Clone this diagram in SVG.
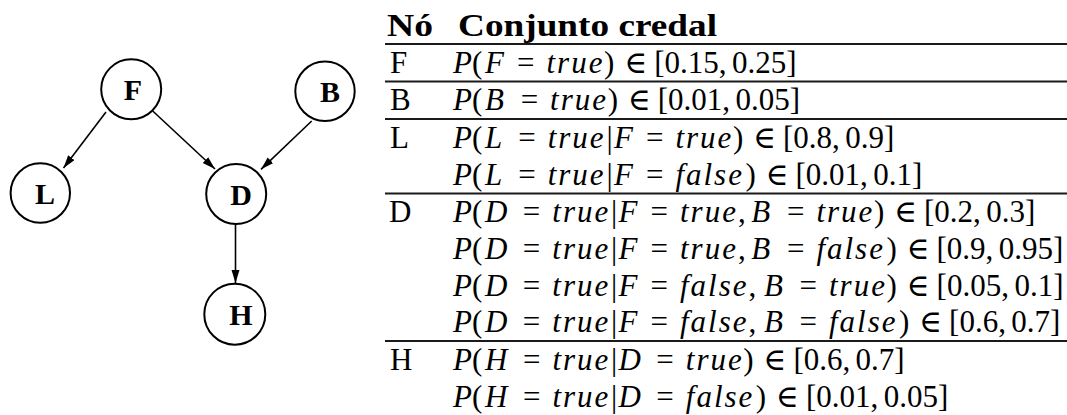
<svg xmlns="http://www.w3.org/2000/svg" width="1067" height="415" viewBox="0 0 1067 415">
<style>
.t{font-family:"Liberation Serif","DejaVu Serif",serif;font-size:31px;fill:#000}
.i{font-style:italic}
.w{letter-spacing:2px}
.hd{font-weight:bold}
.rule{stroke:#1a1a1a;stroke-width:2}
.node circle{fill:#fff;stroke:#000;stroke-width:2}
.node text{font-family:"Liberation Serif","DejaVu Serif",serif;font-weight:bold;font-size:30px;fill:#000;text-anchor:middle}
.edge{stroke:#000;stroke-width:1.6;fill:none;marker-end:url(#arr)}
</style>
<defs>
<marker id="arr" markerUnits="userSpaceOnUse" markerWidth="14" markerHeight="10" refX="13" refY="4" orient="auto">
<path d="M0,0 L13,4 L0,8 z" fill="#000"/>
</marker>
</defs>
<rect width="1067" height="415" fill="#fff"/>
<g id="connectors">
<line class="edge" x1="106" y1="112" x2="63.5" y2="168"/>
<line class="edge" x1="152.7" y1="111" x2="215" y2="169"/>
<line class="edge" x1="311.7" y1="121" x2="261" y2="169.3"/>
<line class="edge" x1="235.5" y1="224" x2="235.5" y2="283"/>
</g>
<g id="node-F" class="node"><circle cx="131.2" cy="89.3" r="30"/><text x="133" y="100">F</text></g>
<g id="node-B" class="node"><circle cx="325" cy="91.3" r="29.7"/><text x="330" y="101.7">B</text></g>
<g id="node-L" class="node"><circle cx="40.3" cy="193" r="29.7"/><text x="45" y="204">L</text></g>
<g id="node-D" class="node"><circle cx="236.2" cy="194" r="30"/><text x="241" y="205">D</text></g>
<g id="node-H" class="node"><circle cx="234.8" cy="314.2" r="30.5"/><text x="241" y="325">H</text></g>
<g id="table">
<text class="t hd" x="387" y="36" textLength="46" lengthAdjust="spacingAndGlyphs">Nó</text>
<text class="t hd" x="458" y="36" textLength="259" lengthAdjust="spacingAndGlyphs">Conjunto credal</text>
<line class="rule" x1="385" y1="44" x2="1067" y2="44"/>
<line class="rule" x1="385" y1="81.5" x2="1067" y2="81.5"/>
<line class="rule" x1="385" y1="119" x2="1067" y2="119"/>
<line class="rule" x1="385" y1="193.5" x2="1067" y2="193.5"/>
<line class="rule" x1="385" y1="341" x2="1067" y2="341"/>
<text class="t" x="390" y="72.5">F</text>
<text class="t" x="390" y="110">B</text>
<text class="t" x="390" y="147.5">L</text>
<text class="t" x="389" y="222">D</text>
<text class="t" x="390" y="370">H</text>
<text class="t" y="72.5"><tspan x="453" class="i">P</tspan>(<tspan x="485.1" class="i">F</tspan> <tspan x="517.1">=</tspan> <tspan x="546.5" class="i w">true</tspan><tspan x="604.1">)</tspan> <tspan x="624.4">∈</tspan> <tspan x="654.2">[0.15,</tspan> <tspan x="732">0.25]</tspan></text>
<text class="t" y="110"><tspan x="453" class="i">P</tspan>(<tspan x="485.1" class="i">B</tspan> <tspan x="520.7">=</tspan> <tspan x="550.1" class="i w">true</tspan><tspan x="607.7">)</tspan> <tspan x="628">∈</tspan> <tspan x="657.8">[0.01,</tspan> <tspan x="735.6">0.05]</tspan></text>
<text class="t" y="147.5"><tspan x="453" class="i">P</tspan>(<tspan x="485.1" class="i">L</tspan> <tspan x="518.2">=</tspan> <tspan x="547.7" class="i w">true</tspan><tspan x="606.5">|</tspan><tspan x="613.9" class="i">F</tspan> <tspan x="645.9">=</tspan> <tspan x="675.4" class="i w">true</tspan><tspan x="732.9">)</tspan> <tspan x="753.2">∈</tspan> <tspan x="783">[0.8,</tspan> <tspan x="845.2">0.9]</tspan></text>
<text class="t" y="184.5"><tspan x="453" class="i">P</tspan>(<tspan x="485.1" class="i">L</tspan> <tspan x="518.2">=</tspan> <tspan x="547.7" class="i w">true</tspan><tspan x="606.5">|</tspan><tspan x="613.9" class="i">F</tspan> <tspan x="645.9">=</tspan> <tspan x="675.4" class="i w">false</tspan><tspan x="745.4">)</tspan> <tspan x="765.7">∈</tspan> <tspan x="795.5">[0.01,</tspan> <tspan x="873.3">0.1]</tspan></text>
<text class="t" y="222"><tspan x="453" class="i">P</tspan>(<tspan x="485.1" class="i">D</tspan> <tspan x="522.8">=</tspan> <tspan x="552.3" class="i w">true</tspan><tspan x="611">|</tspan><tspan x="618.5" class="i">F</tspan> <tspan x="650.5">=</tspan> <tspan x="680" class="i w">true</tspan>, <tspan x="751.3" class="i">B</tspan> <tspan x="786.9">=</tspan> <tspan x="816.4" class="i w">true</tspan><tspan x="873.9">)</tspan> <tspan x="894.2">∈</tspan> <tspan x="924">[0.2,</tspan> <tspan x="986.2">0.3]</tspan></text>
<text class="t" y="258.5"><tspan x="453" class="i">P</tspan>(<tspan x="485.1" class="i">D</tspan> <tspan x="522.8">=</tspan> <tspan x="552.3" class="i w">true</tspan><tspan x="611">|</tspan><tspan x="618.5" class="i">F</tspan> <tspan x="650.5">=</tspan> <tspan x="680" class="i w">true</tspan>, <tspan x="751.3" class="i">B</tspan> <tspan x="786.9">=</tspan> <tspan x="816.4" class="i w">false</tspan><tspan x="886.4">)</tspan> <tspan x="906.7">∈</tspan> <tspan x="936.5">[0.9,</tspan> <tspan x="998.7">0.95]</tspan></text>
<text class="t" y="295.5"><tspan x="453" class="i">P</tspan>(<tspan x="485.1" class="i">D</tspan> <tspan x="522.8">=</tspan> <tspan x="552.3" class="i w">true</tspan><tspan x="611">|</tspan><tspan x="618.5" class="i">F</tspan> <tspan x="650.5">=</tspan> <tspan x="680" class="i w">false</tspan>, <tspan x="763.9" class="i">B</tspan> <tspan x="799.5">=</tspan> <tspan x="829" class="i w">true</tspan><tspan x="886.5">)</tspan> <tspan x="906.8">∈</tspan> <tspan x="936.6">[0.05,</tspan> <tspan x="1014.4">0.1]</tspan></text>
<text class="t" y="332"><tspan x="453" class="i">P</tspan>(<tspan x="485.1" class="i">D</tspan> <tspan x="522.8">=</tspan> <tspan x="552.3" class="i w">true</tspan><tspan x="611">|</tspan><tspan x="618.5" class="i">F</tspan> <tspan x="650.5">=</tspan> <tspan x="680" class="i w">false</tspan>, <tspan x="763.9" class="i">B</tspan> <tspan x="799.5">=</tspan> <tspan x="829" class="i w">false</tspan><tspan x="899">)</tspan> <tspan x="919.3">∈</tspan> <tspan x="949.1">[0.6,</tspan> <tspan x="1011.3">0.7]</tspan></text>
<text class="t" y="370"><tspan x="453" class="i">P</tspan>(<tspan x="485.1" class="i">H</tspan> <tspan x="522.9">=</tspan> <tspan x="552.4" class="i w">true</tspan><tspan x="611.1">|</tspan><tspan x="618.6" class="i">D</tspan> <tspan x="656.3">=</tspan> <tspan x="685.8" class="i w">true</tspan><tspan x="743.3">)</tspan> <tspan x="763.6">∈</tspan> <tspan x="793.4">[0.6,</tspan> <tspan x="855.6">0.7]</tspan></text>
<text class="t" y="406.5"><tspan x="453" class="i">P</tspan>(<tspan x="485.1" class="i">H</tspan> <tspan x="522.9">=</tspan> <tspan x="552.4" class="i w">true</tspan><tspan x="611.1">|</tspan><tspan x="618.6" class="i">D</tspan> <tspan x="656.3">=</tspan> <tspan x="685.8" class="i w">false</tspan><tspan x="755.8">)</tspan> <tspan x="776.1">∈</tspan> <tspan x="805.9">[0.01,</tspan> <tspan x="883.7">0.05]</tspan></text>
</g>
</svg>
